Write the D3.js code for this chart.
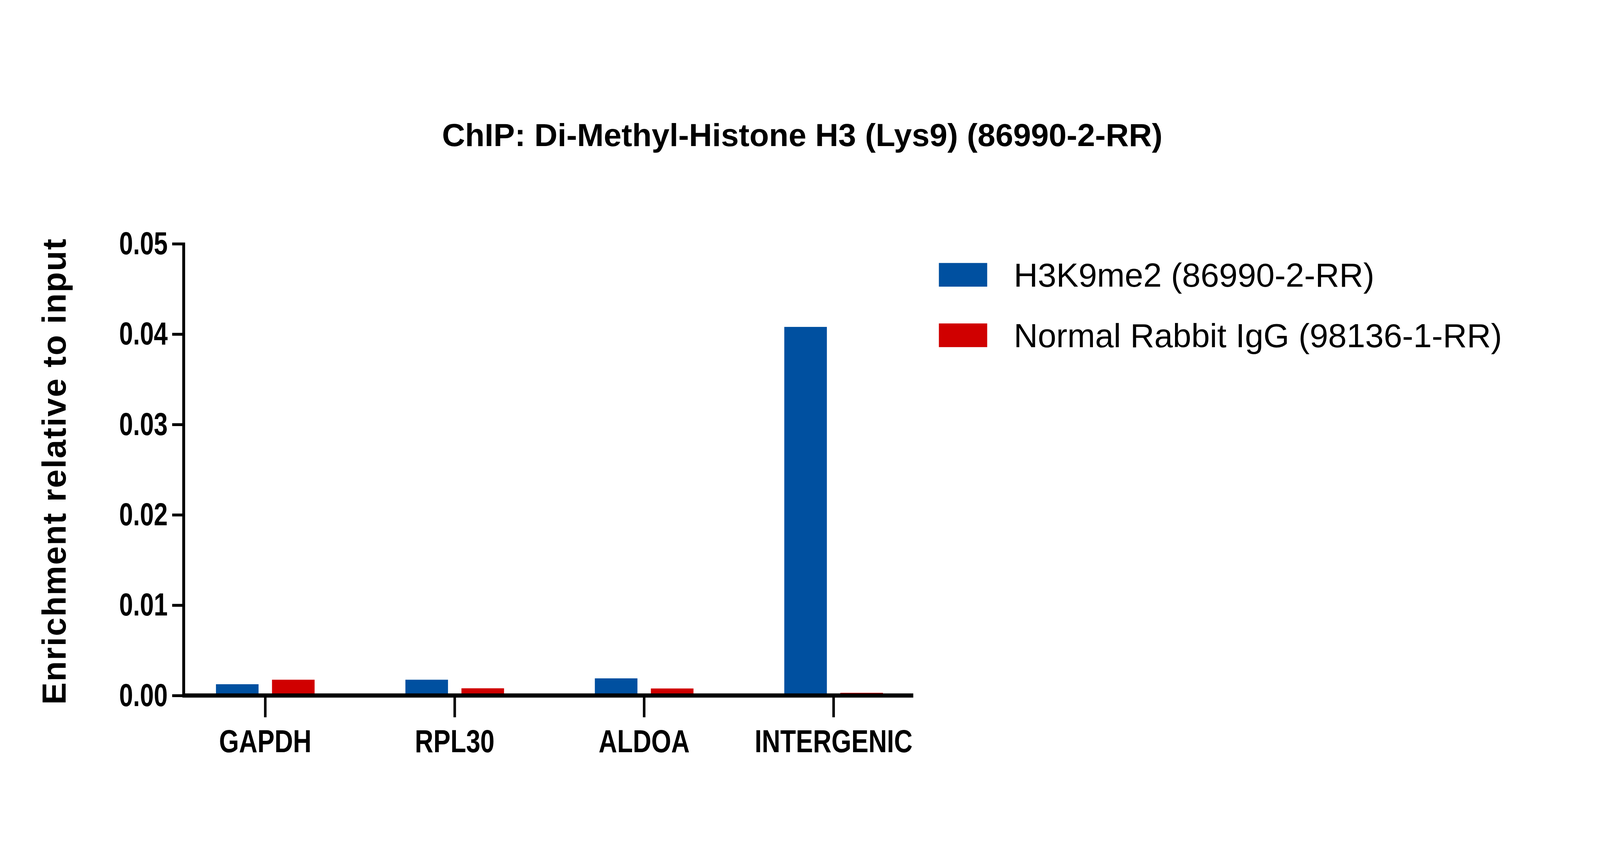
<!DOCTYPE html><html><head><meta charset="utf-8"><script src="https://cdn.jsdelivr.net/npm/d3@7"></script>
<style>html,body{margin:0;background:#fff;overflow:hidden}svg{display:block;width:100vw;height:100vh}</style></head><body><svg id="c" viewBox="0 0 5000 2220"></svg>
<script>
const categories=["GAPDH","RPL30","ALDOA","INTERGENIC"];
const seriesNames=["H3K9me2 (86990-2-RR)","Normal Rabbit IgG (98136-1-RR)"];
const h3k9me2=[0.00125,0.00175,0.0019,0.0408];
const igg=[0.00175,0.0008,0.00078,0.0003];
const yTicks=[0,0.01,0.02,0.03,0.04,0.05];
const colors=["#0050a0","#d00000"];
const svg=d3.select("#c");
const L=574,R=2854,T=517,B=1929;
const x=d3.scaleBand().domain(categories).range([533,533+592*4]);
const x1=d3.scaleBand().domain([0,1]).range([0,592]).paddingInner(0.24).paddingOuter(0.81);
const y=d3.scaleLinear().domain([0,0.05]).range([B,T]);
const data=categories.map((c,i)=>[h3k9me2[i],igg[i]]);
const g=svg.append("g");
categories.forEach((c,i)=>{
  g.selectAll(null).data(data[i]).enter().append("rect")
   .attr("x",(d,j)=>x(c)+x1(j)).attr("width",x1.bandwidth())
   .attr("y",d=>y(d)).attr("height",d=>B-y(d)).attr("fill",(d,j)=>colors[j]);
});
function condense(sel,f){sel.each(function(){const w=this.getComputedTextLength();d3.select(this).attr("textLength",w*f).attr("lengthAdjust","spacingAndGlyphs");});}
const ya=svg.append("g").attr("transform",`translate(${L},0)`).call(d3.axisLeft(y).tickValues(yTicks).tickFormat(d3.format(".2f")).tickSize(36).tickPadding(14));
ya.select(".domain").attr("stroke-width",9).attr("d",`M0,${T-4}V${B}`);
ya.selectAll(".tick line").attr("stroke-width",9);
ya.selectAll("text").attr("font-family","Liberation Sans").attr("font-weight","bold").attr("font-size",100).attr("fill","#000").call(condense,0.78);
const xa=svg.append("g").attr("transform",`translate(0,${B})`).call(d3.axisBottom(x).tickSize(68).tickPadding(38));
xa.select(".domain").attr("stroke-width",13).attr("d",`M${L-4},0H${R}`);
xa.selectAll(".tick line").attr("stroke-width",8);
xa.selectAll("text").attr("font-family","Liberation Sans").attr("font-weight","bold").attr("font-size",100).attr("fill","#000").call(condense,0.8);
svg.append("text").attr("transform","translate(205,1228) rotate(-90)").attr("text-anchor","middle")
 .attr("font-family","Liberation Sans").attr("font-weight","bold").attr("font-size",104).attr("letter-spacing",3).text("Enrichment relative to input");
svg.append("text").attr("x",2507).attr("y",212).attr("text-anchor","middle")
 .attr("font-family","Liberation Sans").attr("font-weight","bold").attr("font-size",100).text("ChIP: Di-Methyl-Histone H3 (Lys9) (86990-2-RR)");
const lg=svg.append("g");
seriesNames.forEach((s,i)=>{
  const yy=577+i*189;
  lg.append("rect").attr("x",2934).attr("y",yy).attr("width",151).attr("height",74).attr("fill",colors[i]);
  lg.append("text").attr("x",3168).attr("y",yy+37).attr("dy","0.36em").attr("font-family","Liberation Sans").attr("font-size",104).text(s);
});
</script></body></html>
